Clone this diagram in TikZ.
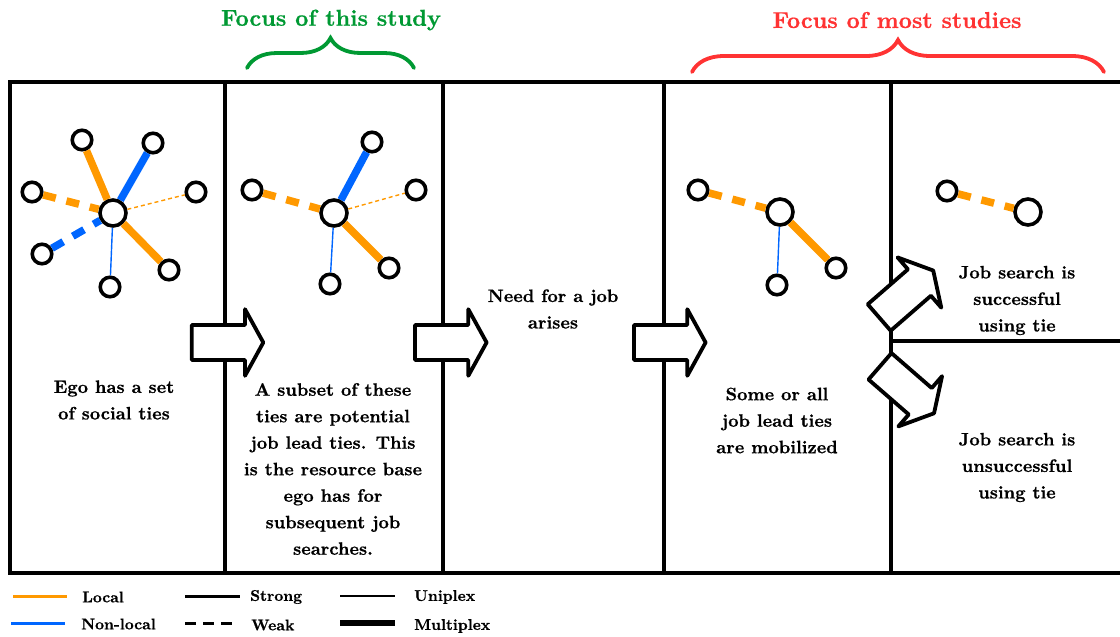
\documentclass[tikz,border=0pt]{standalone}
\usepackage{fontspec}
\newfontfamily\bxfont{lmroman10-bold.otf}[FakeBold=0.6]
\usetikzlibrary{decorations.pathreplacing}
\definecolor{loc}{RGB}{255,153,0}
\definecolor{nonloc}{RGB}{0,102,255}
\definecolor{fgreen}{RGB}{0,153,51}
\definecolor{fred}{RGB}{255,51,51}
\begin{document}
\begin{tikzpicture}[x=1pt,y=-1pt,
  frame/.style={line width=4pt},
  ego/.style={circle,draw,line width=3.6pt,fill=white,minimum size=26pt,inner sep=0pt},
  alter/.style={circle,draw,line width=3.6pt,fill=white,minimum size=19.5pt,inner sep=0pt},
  multi/.style={line width=7.5pt},
  uni/.style={line width=1.4pt},
  weakdash/.style={dash pattern=on 13pt off 11pt},
  weakthin/.style={dash pattern=on 4pt off 3pt},
  bodytext/.style={font=\fontsize{18}{26.5}\selectfont\bxfont, align=center},
  headtext/.style={font=\fontsize{23}{28}\selectfont\bxfont},
  legtext/.style={font=\fontsize{15.5}{18}\selectfont\bxfont, anchor=west, inner sep=0pt},
  focusbrace/.style={decorate,decoration={brace,amplitude=#1},line width=3.8pt,line cap=round},
  blockarrow/.pic={\draw[line width=3.8pt,line join=round,fill=white]
    (0,17.5)--(53.3,17.5)--(53.3,33.3)--(71.6,0)--(53.3,-33.3)--(53.3,-17.5)--(0,-17.5)--cycle;}
]
\useasboundingbox (0,0) rectangle (1120,637);

% frame
\draw[frame] (1125,82) -- (10,82) -- (10,573) -- (1125,573);
\foreach \x in {225,443,664,891} \draw[frame] (\x,82) -- (\x,573);
\draw[frame] (891,341) -- (1125,341);

% headings and braces
\node[headtext,text=fgreen] (h1) at (331,20) {Focus of this study};
\node[headtext,text=fred] (h2) at (897,20) {Focus of most studies};
\draw[focusbrace=30pt,fgreen] (247,68) -- (414,68);
\draw[focusbrace=32pt,fred] (692,72) -- (1104,72);

% panel 1 network
\node[ego] (c1) at (113,213) {};
\node[alter] (a1) at (82,140) {};
\node[alter] (a2) at (153,143) {};
\node[alter] (a3) at (32,192) {};
\node[alter] (a4) at (196,192) {};
\node[alter] (a5) at (42,254) {};
\node[alter] (a6) at (110,287) {};
\node[alter] (a7) at (169,270) {};
\draw[loc,multi] (c1) -- (a1);
\draw[nonloc,multi] (c1) -- (a2);
\draw[loc,multi,weakdash] (a3) -- (c1);
\draw[loc,uni,weakthin] (c1) -- (a4);
\draw[nonloc,multi,weakdash] (a5) -- (c1);
\draw[nonloc,uni] (c1) -- (a6);
\draw[loc,multi] (c1) -- (a7);

% panel 2 network
\node[ego] (c2) at (334,213) {};
\node[alter] (b2) at (372,142) {};
\node[alter] (b3) at (252,190) {};
\node[alter] (b4) at (416,190) {};
\node[alter] (b6) at (330,284) {};
\node[alter] (b7) at (389,268) {};
\draw[nonloc,multi] (c2) -- (b2);
\draw[loc,multi,weakdash] (b3) -- (c2);
\draw[loc,uni,weakthin] (c2) -- (b4);
\draw[nonloc,uni] (c2) -- (b6);
\draw[loc,multi] (c2) -- (b7);

% panel 4 network
\node[ego] (c4) at (780,212) {};
\node[alter] (d3) at (698,190) {};
\node[alter] (d6) at (777,285) {};
\node[alter] (d7) at (836,268) {};
\draw[loc,multi,weakdash] (d3) -- (c4);
\draw[nonloc,uni] (c4) -- (d6);
\draw[loc,multi] (c4) -- (d7);

% panel 5 network
\node[alter] (e3) at (947,191) {};
\node[ego] (e1) at (1028,212) {};
\draw[loc,multi,weakdash] (e3) -- (e1);

% block arrows
\pic at (191.7,342.5) {blockarrow};
\pic at (415,342.5) {blockarrow};
\pic at (634,342.5) {blockarrow};
\pic[rotate=41] at (879.2,317.5) {blockarrow};
\pic[rotate=-41] at (880,366.3) {blockarrow};

% texts
\node[bodytext] (t1) at (114,400) {Ego has a set\\of social ties};
\node[bodytext] (t2) at (333,469) {A subset of these\\ties are potential\\job lead ties. This\\is the resource base\\ego has for\\subsequent job\\searches.};
\node[bodytext] (t3) at (553,309) {Need for a job\\arises};
\node[bodytext] (t4) at (777,420.5) {Some or all\\job lead ties\\are mobilized};
\node[bodytext] (t5) at (1017,300.5) {Job search is\\successful\\using tie};
\node[bodytext] (t6) at (1017,467.5) {Job search is\\unsuccessful\\using tie};

% legend
\draw[loc,line width=3pt] (13,596) -- (67,596);
\node[legtext] (l1) at (82,597) {Local};
\draw[nonloc,line width=3pt] (11,623) -- (65,623);
\node[legtext] (l2) at (81,624) {Non-local};
\draw[line width=3pt] (185,596) -- (240,596);
\node[legtext] (l3) at (250,597) {Strong};
\draw[line width=3pt,dash pattern=on 11pt off 7pt] (185,623) -- (233,623);
\node[legtext] (l4) at (251,625) {Weak};
\draw[line width=1.3pt] (340,596) -- (395,596);
\node[legtext] (l5) at (414,597) {Uniplex};
\draw[line width=6pt] (340,623) -- (395,623);
\node[legtext] (l6) at (414,626) {Multiplex};
\end{tikzpicture}
\end{document}
